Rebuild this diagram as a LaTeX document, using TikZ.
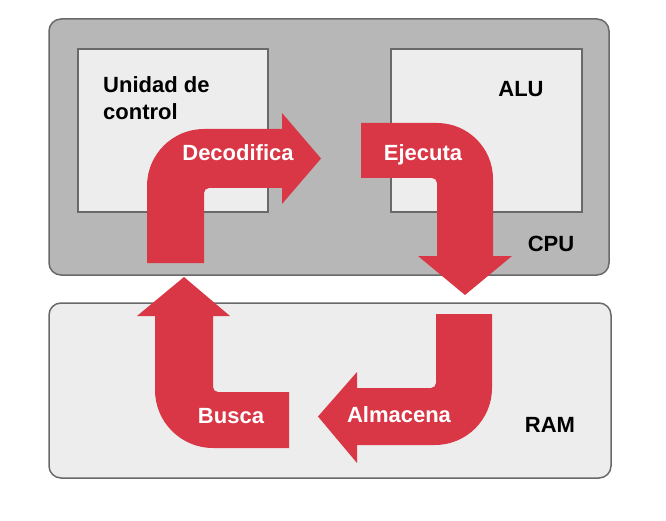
\documentclass[tikz,border=0pt]{standalone}
\usepackage{fontspec}
\setmainfont{Liberation Sans}
\definecolor{arrowred}{RGB}{217,54,70}
\definecolor{cpugray}{RGB}{183,183,183}
\definecolor{boxgray}{RGB}{237,237,237}
\definecolor{edgegray}{RGB}{105,105,105}
\begin{document}
\begin{tikzpicture}[x=1pt, y=1pt,
    every node/.style = {font=\bfseries\fontsize{22}{27}\selectfont, inner sep=0pt},
    unit/.style = {draw=edgegray, line width=1.5pt, fill=boxgray},
    outer/.style = {unit, rounded corners=12pt},
    band/.style = {fill=arrowred},
    tag/.style = {text=white, anchor=base}]

  \useasboundingbox (0,0) rectangle (666,520);

  \node[outer, fill=cpugray, minimum width=560pt, minimum height=256pt] (cpu) at (329,373) {};
  \node[outer, minimum width=562pt, minimum height=175pt] (ram) at (330,129.5) {};
  \node[unit, minimum width=190pt, minimum height=163pt] (uc) at (173,389.5) {};
  \node[unit, minimum width=191pt, minimum height=163pt] (alu) at (486.5,389.5) {};

  \node[anchor=north west, align=left] (uclabel) at (103,444) {Unidad de\\control};
  \node[anchor=base] (alulabel) at (521,423) {ALU};
  \node[anchor=base] (cpulabel) at (551,269) {CPU};
  \node[anchor=base] (ramlabel) at (550,88) {RAM};

  \fill[band] (147,257) -- (147,334) arc[start angle=180, end angle=90, radius=57]
    -- (282,391) -- (282,407) -- (321,361.5) -- (282,316) -- (282,332) -- (209,332)
    arc[start angle=90, end angle=180, radius=5] -- (204,257) -- cycle;
  \fill[band] (361,397) -- (437,397) arc[start angle=90, end angle=0, radius=56]
    -- (493,264) -- (512,264) -- (465,225) -- (418,264) -- (437,264) -- (437,337)
    arc[start angle=0, end angle=90, radius=5] -- (361,342) -- cycle;
  \fill[band] (436,206) -- (492,206) -- (492,132) arc[start angle=0, end angle=-90, radius=57]
    -- (357,75) -- (357,57) -- (318,103.5) -- (357,148) -- (357,132) -- (431,132)
    arc[start angle=-90, end angle=0, radius=5] -- cycle;
  \fill[band] (289,72) -- (213,72) arc[start angle=270, end angle=180, radius=58]
    -- (155,204) -- (137,204) -- (184,243) -- (230,204) -- (213,204) -- (213,133)
    arc[start angle=180, end angle=270, radius=5] -- (289,128) -- cycle;

  \node[tag] (decodifica) at (238,359) {Decodifica};
  \node[tag] (ejecuta) at (423,359) {Ejecuta};
  \node[tag] (almacena) at (399,98) {Almacena};
  \node[tag] (busca) at (231,97) {Busca};

\end{tikzpicture}
\end{document}
